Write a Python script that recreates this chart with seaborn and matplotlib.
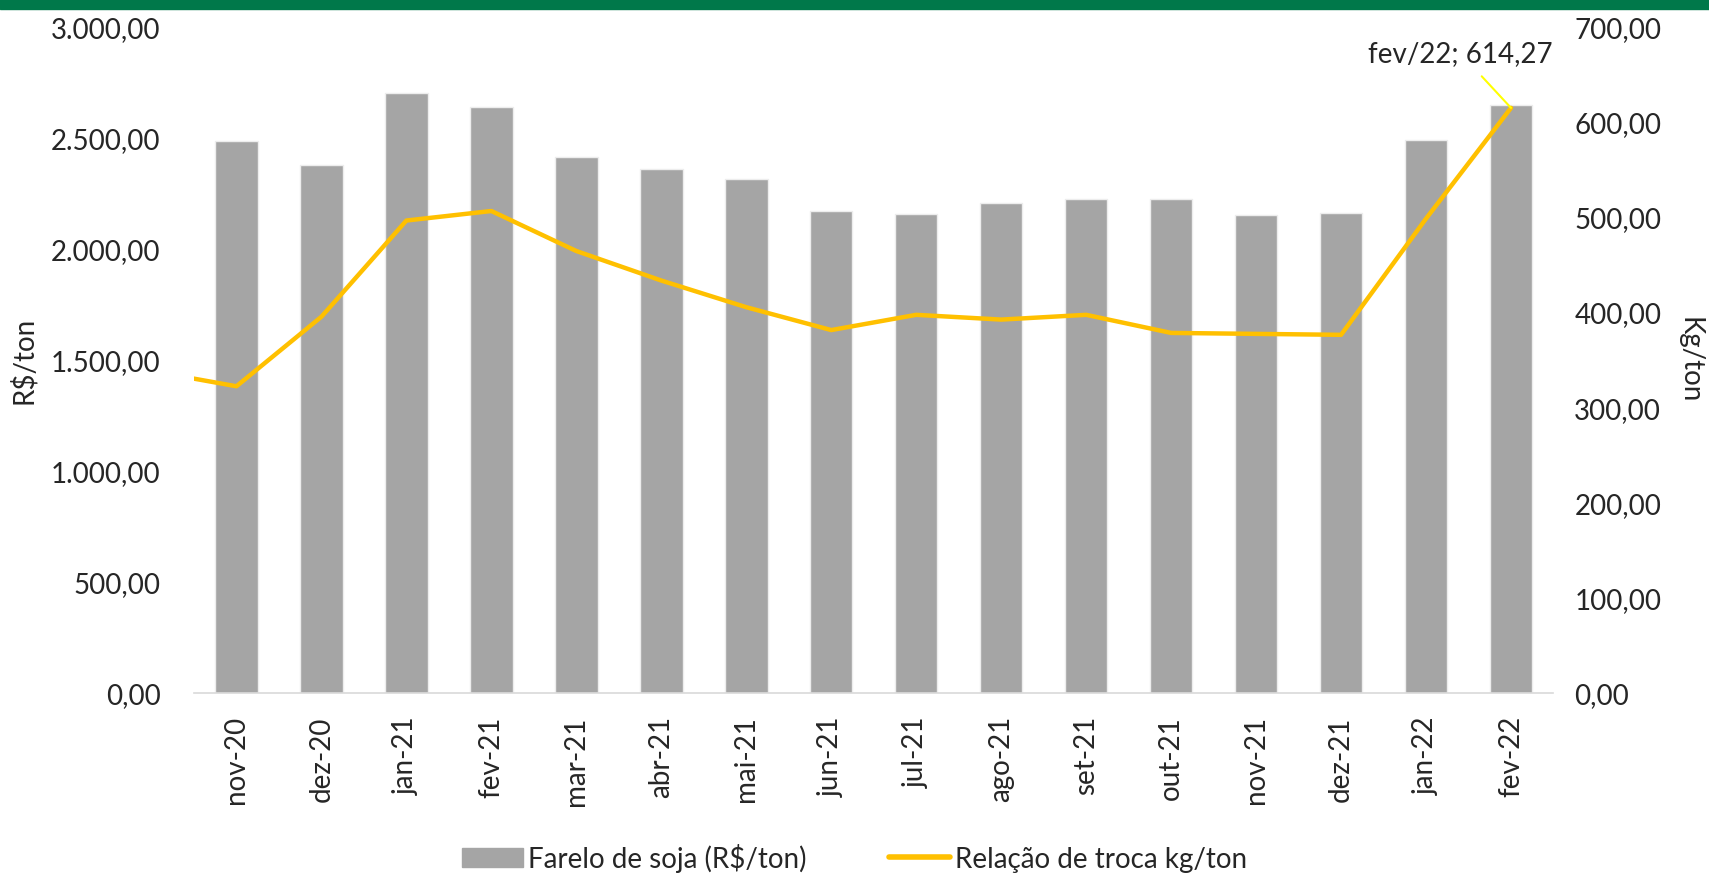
import numpy as np
import pandas as pd
import matplotlib
matplotlib.use("Agg")
import matplotlib.pyplot as plt
from matplotlib.ticker import FuncFormatter, FixedLocator
from matplotlib.patches import Rectangle
import seaborn as sns

# data
months = ["nov-20", "dez-20", "jan-21", "fev-21", "mar-21", "abr-21", "mai-21", "jun-21",
          "jul-21", "ago-21", "set-21", "out-21", "nov-21", "dez-21", "jan-22", "fev-22"]
farelo = [2484, 2376, 2700, 2636, 2411, 2357, 2313, 2168,
          2155, 2205, 2222, 2222, 2150, 2160, 2488, 2645]
# exchange ratio, first value is out-20 (outside the visible range)
troca_months = ["out-20"] + months
troca = [338, 322, 395, 496, 506, 464, 433, 405, 381,
         397, 392, 397, 378, 377, 376, 498, 614.27]

bar_color = "#A5A5A5"
line_color = "#FFC000"
green = "#00784A"

sns.set_theme(style="white")
plt.rcParams["font.family"] = ["Lato", "DejaVu Sans"]
plt.rcParams["font.size"] = 20


def br_fmt(v, pos=None):
    s = f"{v:,.2f}"
    return s.replace(",", "X").replace(".", ",").replace("X", ".")


fig = plt.figure(figsize=(17.09, 8.78), dpi=100)
ax = fig.add_axes([0.1135, 0.2096, 0.7955, 0.7594])

df = pd.DataFrame({"mes": months, "valor": farelo})
sns.barplot(data=df, x="mes", y="valor", color=bar_color, width=0.5,
            edgecolor="#EDEDED", linewidth=1, saturation=1, ax=ax)
ax.set_ylim(0, 3000)
ax.set_xlim(-0.5, len(months) - 0.5)
ax.yaxis.set_major_locator(FixedLocator(np.arange(0, 3001, 500)))
ax.yaxis.set_major_formatter(FuncFormatter(br_fmt))
ax.set_xlabel("")
ax.set_ylabel("R$/ton", fontsize=20, labelpad=10)
ax.tick_params(axis="y", length=0, pad=24, labelsize=20)
ax.tick_params(axis="x", which="major", length=0, pad=16, labelsize=20, rotation=90)
ax.set_xticks(np.arange(-0.5, len(months)), minor=True)
ax.tick_params(axis="x", which="minor", length=8, color="#D9D9D9", width=1.2)
for s in ["top", "left", "right"]:
    ax.spines[s].set_visible(False)
ax.spines["bottom"].set_color("#D9D9D9")
ax.spines["bottom"].set_linewidth(1.2)

ax2 = ax.twinx()
sns.lineplot(x=np.arange(-1, len(months)), y=troca, color=line_color, linewidth=3.2,
             ax=ax2, solid_joinstyle="round")
ax2.set_xlim(-0.5, len(months) - 0.5)
ax2.set_ylim(0, 700)
ax2.yaxis.set_major_locator(FixedLocator(np.arange(0, 701, 100)))
ax2.yaxis.set_major_formatter(FuncFormatter(br_fmt))
ax2.tick_params(axis="y", length=0, pad=15, labelsize=20)
ax2.set_ylabel("Kg/ton", fontsize=20, rotation=270, labelpad=30)
for s in ["top", "left", "right", "bottom"]:
    ax2.spines[s].set_visible(False)

# label on the last point
last = len(months) - 1
ax2.annotate(f"{troca_months[-1][:3]}/{troca_months[-1][-2:]}; {br_fmt(troca[-1])}",
             xy=(last, troca[-1]), xytext=(last - 0.6, 672), ha="center", va="center",
             fontsize=20,
             arrowprops=dict(arrowstyle="-", color="#FFFF00", lw=1.5, shrinkA=7, shrinkB=0))

# top green band
fig.add_artist(Rectangle((0, 1 - 10 / 878), 1, 10 / 878, transform=fig.transFigure,
                         color=green, zorder=10))

# legend
handles = [Rectangle((0, 0), 1, 1, color=bar_color),
           plt.Line2D([0], [0], color=line_color, lw=4)]
fig.legend(handles, ["Farelo de soja (R$/ton)", "Relação de troca kg/ton"],
           loc="center", bbox_to_anchor=(0.5, 0.022), ncol=2, frameon=False,
           fontsize=20, handlelength=2.2, handletextpad=0.15, columnspacing=3.0,
           borderpad=0.1)

fig.savefig("out.png", dpi=100)
